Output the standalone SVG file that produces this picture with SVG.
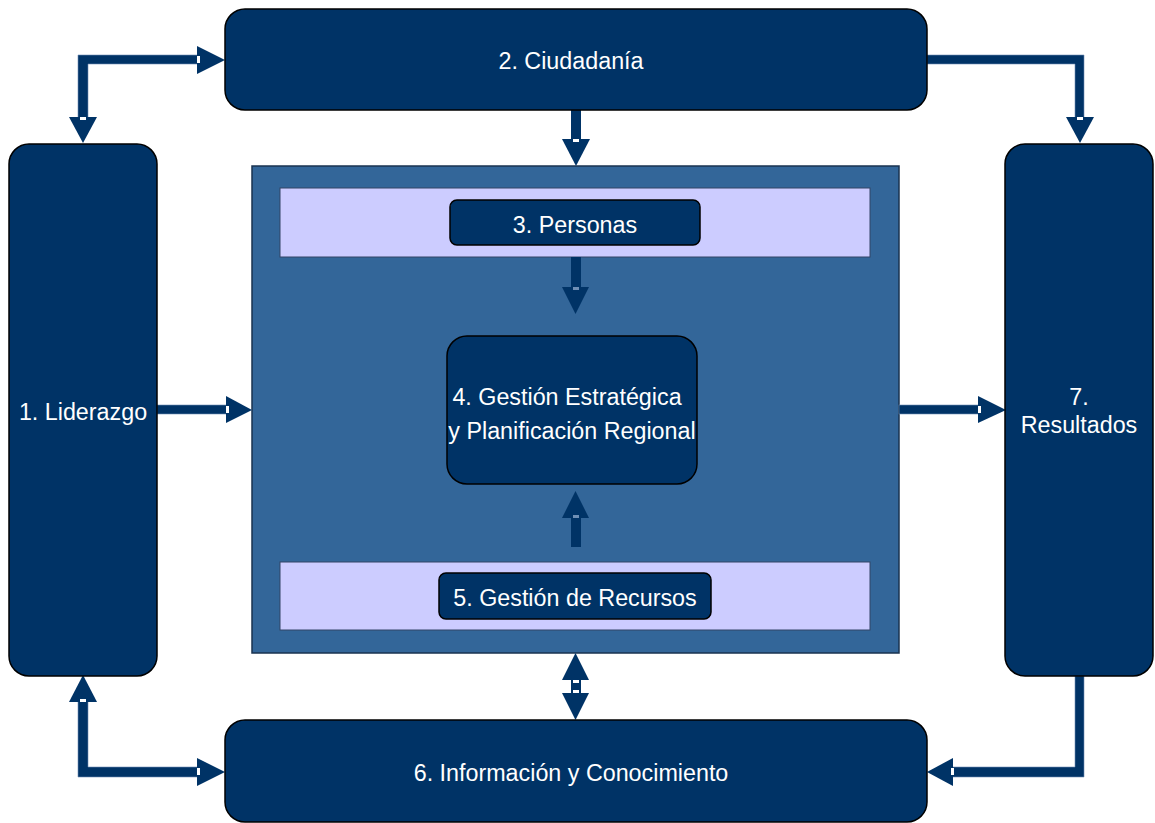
<svg xmlns="http://www.w3.org/2000/svg" width="1155" height="823" viewBox="0 0 1155 823">
<style>
.node{fill:#003366;stroke:#000;stroke-width:1.5}
.box{fill:#336699;stroke:#1a3350;stroke-width:1.5}
.band{fill:#ccccff;stroke:#334466;stroke-width:1}
.lbl{font-family:"Liberation Sans",Arial,sans-serif;font-size:23.3px;fill:#fff;text-anchor:middle}
.sh{fill:#003366;stroke:#6f8fb5;stroke-width:0.6}
.hd{fill:#003366}
.nt{fill:#fff}
.nti{fill:#6f8fb5}
</style>
<rect width="1155" height="823" fill="#fff"/>
<g id="container"><rect class="box" x="252" y="166" width="647" height="487"/></g>
<g id="band3"><rect class="band" x="280" y="188" width="590" height="69"/></g>
<g id="band5"><rect class="band" x="280" y="562" width="590" height="68"/></g>
<g id="connectors">
<path class="sh" d="M78,55 H199 V64 H88 V119 H78 Z"/>
<polygon class="hd" points="197,46 225,60 197,74"/>
<polygon class="hd" points="69,117 97,117 83,143"/>
<rect class="nt" x="197" y="56" width="3" height="7"/>
<rect class="nt" x="80" y="117" width="6" height="3"/>
<path class="sh" d="M927,55 H1084 V119 H1075 V64 H927 Z"/>
<polygon class="hd" points="1066,117 1094,117 1080,143"/>
<rect class="nt" x="1077" y="117" width="6" height="3"/>
<rect class="sh" x="157" y="405" width="71" height="9"/>
<polygon class="hd" points="226,396 252,410 226,423"/>
<rect class="nt" x="226" y="406" width="3" height="7"/>
<rect class="sh" x="899" y="405" width="81" height="9"/>
<polygon class="hd" points="978,396 1006,410 978,423"/>
<rect class="nt" x="978" y="406" width="3" height="7"/>
<rect class="hd" x="571" y="110" width="10" height="30"/>
<polygon class="hd" points="562,139 590,139 576,166"/>
<rect class="nt" x="573" y="139" width="6" height="3"/>
<rect class="hd" x="571" y="257" width="10" height="31"/>
<polygon class="hd" points="562,287 589,287 575.5,314"/>
<rect class="nti" x="573" y="287" width="6" height="3"/>
<rect class="hd" x="571" y="516" width="10" height="31"/>
<polygon class="hd" points="562,518 589,518 575.5,491"/>
<rect class="nti" x="573" y="515" width="6" height="3"/>
<rect class="hd" x="571" y="678" width="10" height="17"/>
<polygon class="hd" points="562,680 589,680 575.5,653"/>
<polygon class="hd" points="562,693 589,693 575.5,720"/>
<rect class="nt" x="573" y="680" width="6" height="3"/>
<rect class="nt" x="573" y="690" width="6" height="3"/>
<path class="sh" d="M78,700 H88 V767 H199 V777 H78 Z"/>
<polygon class="hd" points="69,702 97,702 83,675"/>
<polygon class="hd" points="197,758 225,772 197,786"/>
<rect class="nt" x="80" y="699" width="6" height="3"/>
<rect class="nt" x="197" y="768" width="3" height="7"/>
<path class="sh" d="M1075,676 H1084 V777 H951 V767 H1075 Z"/>
<polygon class="hd" points="953,758 927,772 953,786"/>
<rect class="nt" x="951" y="768" width="3" height="7"/>
</g>
<g id="n2"><rect class="node" x="225" y="9" width="702" height="101" rx="20"/><text class="lbl" x="571" y="69">2. Ciudadanía</text></g>
<g id="n1"><rect class="node" x="9" y="144" width="148" height="532" rx="20"/><text class="lbl" x="83" y="420">1. Liderazgo</text></g>
<g id="n7"><rect class="node" x="1005" y="144" width="148" height="532" rx="20"/><text class="lbl" x="1079" y="405">7.</text><text class="lbl" x="1079" y="433">Resultados</text></g>
<g id="n6"><rect class="node" x="225" y="720" width="702" height="102" rx="20"/><text class="lbl" x="571" y="781">6. Información y Conocimiento</text></g>
<g id="n3"><rect class="node" x="450" y="200" width="250" height="45" rx="7"/><text class="lbl" x="575" y="233">3. Personas</text></g>
<g id="n4"><rect class="node" x="447" y="336" width="250" height="148" rx="20"/><text class="lbl" x="567" y="405">4. Gestión Estratégica </text><text class="lbl" x="572" y="439">y Planificación Regional</text></g>
<g id="n5"><rect class="node" x="439" y="573" width="272" height="46" rx="7"/><text class="lbl" x="575" y="606">5. Gestión de Recursos</text></g>
</svg>
